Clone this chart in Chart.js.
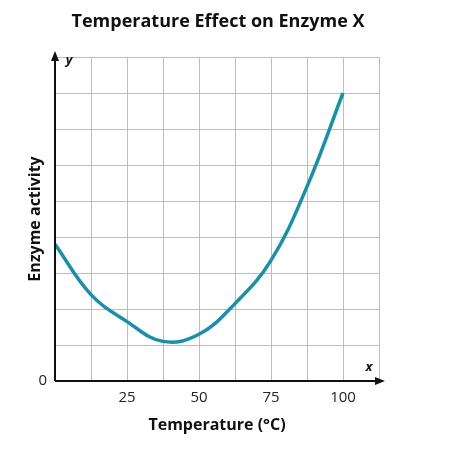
<!DOCTYPE html>
<html>
<head>
<meta charset="utf-8">
<script src="https://cdn.jsdelivr.net/npm/chart.js@4"></script>
<style>
  html, body { margin: 0; padding: 0; background: #fff; }
  #wrap { width: 463px; height: 451px; }
</style>
</head>
<body>
<div id="wrap"><canvas id="chart"></canvas></div>
<script>
// values
const temps = [0, 12.5, 25, 37.5, 50, 62.5, 75, 87.5, 100];
const activity = [3.8, 2.4, 1.65, 1.1, 1.3, 2.15, 3.35, 5.4, 8.0];
const xTickLabels = [25, 50, 75, 100];
const yTickLabels = [0];

const font = "'Open Sans', Lato, sans-serif";

const extras = {
  id: "extras",
  afterDraw(chart) {
    const { ctx, chartArea: a } = chart;
    ctx.save();
    ctx.fillStyle = "#111";
    ctx.strokeStyle = "#111";
    ctx.lineWidth = 2;
    ctx.beginPath();
    ctx.moveTo(a.left, a.bottom);
    ctx.lineTo(a.left, a.top - 2);
    ctx.moveTo(a.left, a.bottom);
    ctx.lineTo(a.right + 2, a.bottom);
    ctx.stroke();
    ctx.beginPath();
    ctx.moveTo(a.left, a.top - 6);
    ctx.lineTo(a.left - 4, a.top + 4);
    ctx.lineTo(a.left + 4, a.top + 4);
    ctx.fill();
    ctx.beginPath();
    ctx.moveTo(a.right + 6, a.bottom);
    ctx.lineTo(a.right - 4, a.bottom - 4);
    ctx.lineTo(a.right - 4, a.bottom + 4);
    ctx.fill();
    ctx.font = "italic bold 13px " + font;
    ctx.textAlign = "center";
    ctx.textBaseline = "middle";
    ctx.fillText("y", a.left + 14, a.top + 3);
    ctx.fillText("x", a.right - 10, a.bottom - 14);
    ctx.font = "bold 18px " + font;
    ctx.fillText("Temperature Effect on Enzyme X", 218, 22);
    ctx.restore();
  }
};

new Chart(document.getElementById("chart"), {
  type: "scatter",
  data: {
    datasets: [{
      data: temps.map((t, i) => ({ x: t, y: activity[i] })),
      showLine: true,
      borderColor: "#1b8fa8",
      borderWidth: 3.5,
      pointRadius: 0,
      tension: 0.4
    }]
  },
  options: {
    responsive: true,
    maintainAspectRatio: false,
    animation: false,
    layout: { padding: { top: 57, right: 84, left: 22, bottom: 12 } },
    plugins: { legend: { display: false }, tooltip: { enabled: false }, title: { display: false } },
    scales: {
      x: {
        type: "linear", min: 0, max: 112.5,
        afterFit(s) { s.height = 58; },
        afterBuildTicks(s) { s.ticks = []; for (let v = 0; v <= 112.5; v += 12.5) s.ticks.push({ value: v }); },
        grid: { color: "#bdbdbd", lineWidth: 1, drawTicks: false },
        border: { display: false },
        ticks: {
          padding: 8, color: "#222", font: { family: font, size: 15 },
          autoSkip: false, maxRotation: 0,
          callback: v => xTickLabels.includes(v) ? String(v) : ""
        },
        title: { display: true, text: "Temperature (°C)", color: "#111", font: { family: font, size: 16, weight: "bold" }, padding: { top: 2 } }
      },
      y: {
        type: "linear", min: 0, max: 9,
        afterFit(s) { s.width = 33; },
        afterBuildTicks(s) { s.ticks = []; for (let v = 0; v <= 9; v++) s.ticks.push({ value: v }); },
        grid: { color: "#bdbdbd", lineWidth: 1, drawTicks: false },
        border: { display: false },
        ticks: {
          padding: 8, color: "#222", font: { family: font, size: 15 },
          autoSkip: false,
          callback: v => yTickLabels.includes(v) ? String(v) : ""
        },
        title: { display: true, text: "Enzyme activity", color: "#111", font: { family: font, size: 16, weight: "bold" }, padding: { bottom: 0 } }
      }
    }
  },
  plugins: [extras]
});
</script>
</body>
</html>
